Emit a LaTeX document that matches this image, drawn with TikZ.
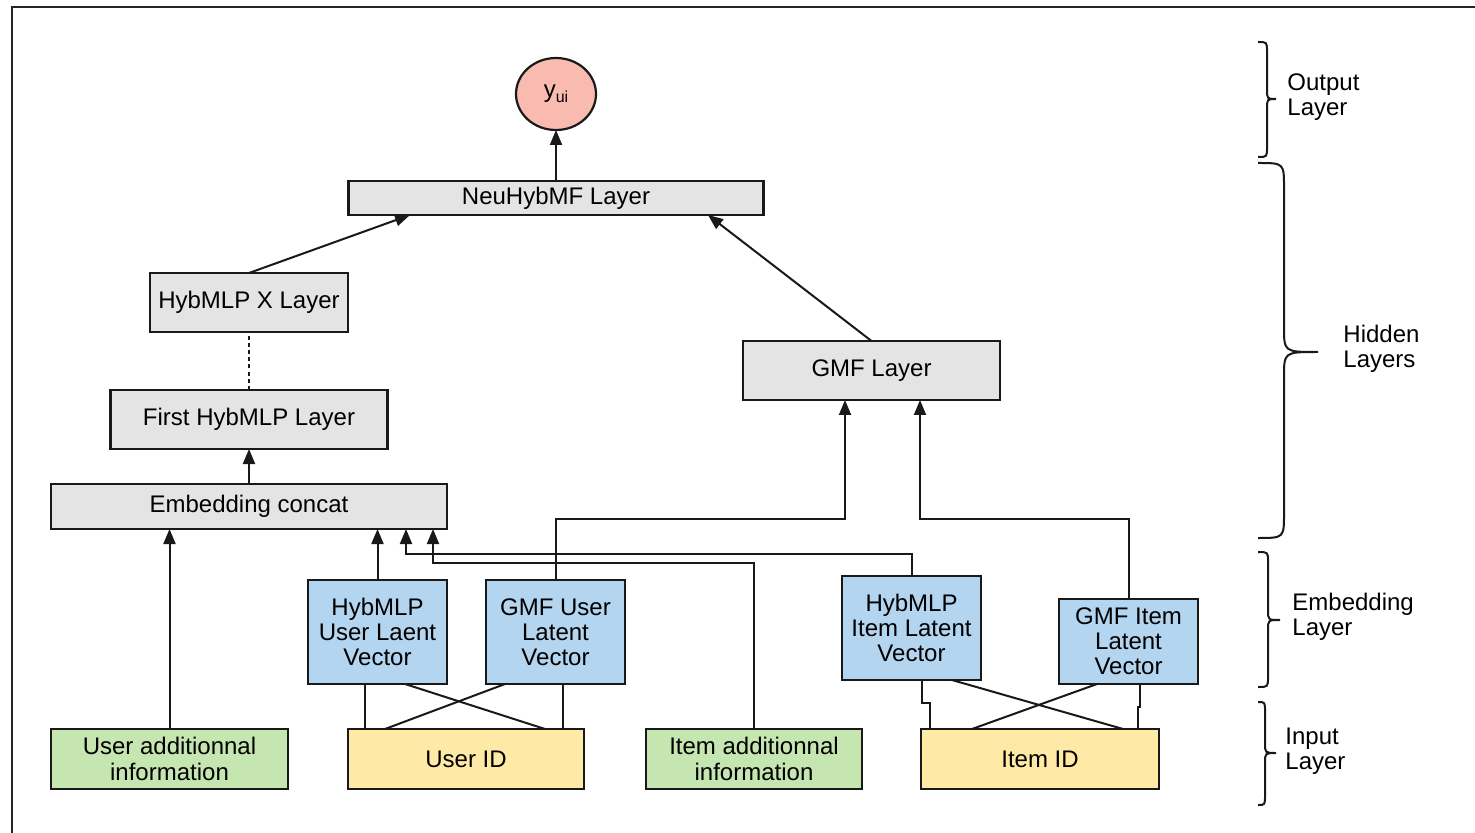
\documentclass[tikz,border=0pt]{standalone}
\usepackage{fontspec}
\setmainfont{Liberation Sans}
\usetikzlibrary{calc,arrows.meta,shapes.geometric}

\definecolor{layergray}{HTML}{E4E4E4}
\definecolor{vecblue}{HTML}{B3D5EF}
\definecolor{infogreen}{HTML}{C6E6B1}
\definecolor{idyellow}{HTML}{FFE9A6}
\definecolor{outsalmon}{HTML}{F9BAAF}

% curly brace: ends at x=#1, stem at x=#2, tip at x=#3, top/mid/bottom y=#4/#5/#6, bend #7
\newcommand{\layerbrace}[7]{%
  \draw[bracestyle] (#1,#4) .. controls (#2,#4) .. (#2,#4+#7)
    -- (#2,#5-#7) .. controls (#2,#5) .. (#3,#5)
    .. controls (#2,#5) .. (#2,#5+#7)
    -- (#2,#6-#7) .. controls (#2,#6) .. (#1,#6);}

\begin{document}
\begin{tikzpicture}[x=0.5pt,y=-0.5pt,
  font=\fontsize{12}{12.6}\selectfont,
  box/.style={draw=black!90, line width=1.1pt, inner sep=0pt, outer sep=0pt, align=center},
  layer/.style={box, fill=layergray},
  vec/.style={box, fill=vecblue, minimum width=69.5pt, minimum height=52pt},
  info/.style={box, fill=infogreen, minimum height=30pt},
  ident/.style={box, fill=idyellow, minimum height=30pt},
  link/.style={line width=1pt, black!90},
  arr/.style={link, -{Triangle[length=7.5pt,width=6pt]}},
  bracestyle/.style={line width=1pt, black!90},
  side/.style={anchor=west, align=left, inner sep=0pt}]

\useasboundingbox (0,0) rectangle (1475,833);

% outer frame (top and left edges)
\draw[line width=0.9pt, black!85] (12,833) -- (12,7) -- (1475,7);

% output
\node[ellipse, draw=black!90, line width=1.1pt, fill=outsalmon, minimum width=40pt,
      minimum height=36pt, inner sep=0pt, outer sep=0pt] (yui) at (556,94)
      {y\raisebox{-0.35ex}{\fontsize{8}{8}\selectfont ui}};

% hidden layers
\node[layer, minimum width=207.5pt, minimum height=17pt] (neu) at (556,198) {NeuHybMF Layer};
\node[layer, minimum width=99pt, minimum height=29.5pt] (hybx) at (249,302.5) {HybMLP X Layer};
\node[layer, minimum width=138.5pt, minimum height=29.5pt] (first) at (249,419.5) {First HybMLP Layer};
\node[layer, minimum width=198pt, minimum height=22.5pt] (embc) at (249,506.5) {Embedding concat};
\node[layer, minimum width=128.5pt, minimum height=29.5pt] (gmf) at (871.5,370.5) {GMF Layer};

% embedding vectors
\node[vec] (hu) at (377.5,632) {HybMLP\\User Laent\\Vector};
\node[vec] (gu) at (555.5,632) {GMF User\\Latent\\Vector};
\node[vec] (hi) at (911.5,628) {HybMLP\\Item Latent\\Vector};
\node[vec, minimum height=42.5pt] (gi) at (1128.5,641.5) {GMF Item\\Latent\\Vector};

% inputs
\node[info, minimum width=118.5pt] (uadd) at (169.5,759) {User additionnal\\information};
\node[ident, minimum width=118pt] (uid) at (466,759) {User ID};
\node[info, minimum width=108pt] (iadd) at (754,759) {Item additionnal\\information};
\node[ident, minimum width=119pt] (iid) at (1040,759) {Item ID};

% output connections
\draw[arr] (neu.north) -- (yui.south);
\draw[arr] (hybx.north) -- ($(neu.south)+(-146,0)$);
\draw[arr] (gmf.north) -- ($(neu.south)+(152,0)$);
\draw[link, dash pattern=on 2pt off 1.6pt] (first.north) -- (hybx.south);
\draw[arr] (embc.north) -- (first.south);

% into the embedding concat
\draw[arr] (uadd.north) -- (uadd.north |- embc.south);
\draw[arr] (hu.north) -- (hu.north |- embc.south);
\draw[arr] (hi.north) -- ++(0,-22) -| ($(embc.south)+(157,0)$);
\draw[arr] (iadd.north) -- ++(0,-166) -| ($(embc.south)+(184,0)$);

% into the GMF layer
\draw[arr] (gu.north) -- ++(0,-61) -| ($(gmf.south)+(-26.5,0)$);
\draw[arr] (gi.north) -- ++(0,-80) -| ($(gmf.south)+(48.5,0)$);

% user id to user vectors
\coordinate (hul) at ($(hu.south)+(-12.5,0)$);
\coordinate (gur) at ($(gu.south)+(7.5,0)$);
\draw[link] (hul) -- (hul |- uid.north);
\draw[link] (gur) -- (gur |- uid.north);
\draw[link] ($(hu.south)+(27.5,0)$) -- ($(uid.north)+(79,0)$);
\draw[link] ($(gu.south)+(-50.5,0)$) -- ($(uid.north)+(-81,0)$);

% item id to item vectors
\draw[link] ($(hi.south)+(10.5,0)$) -- ++(0,23) -| ($(iid.north)+(-110,0)$);
\draw[link] ($(gi.south)+(11.5,0)$) -- ++(0,23) -| ($(iid.north)+(98,0)$);
\draw[link] ($(hi.south)+(40.5,0)$) -- ($(iid.north)+(83,0)$);
\draw[link] ($(gi.south)+(-31.5,0)$) -- ($(iid.north)+(-68,0)$);

% layer braces and labels
\layerbrace{1258}{1267}{1276}{42}{99}{157}{10}
\layerbrace{1258}{1284}{1318}{163}{352}{538}{25}
\layerbrace{1258}{1268}{1280}{552}{620}{687}{10}
\layerbrace{1258}{1265}{1276}{702}{753}{805}{10}

\node[side] (outl) at (1287,97) {Output\\Layer};
\node[side] (hidl) at (1343,349) {Hidden\\Layers};
\node[side] (embl) at (1292,617) {Embedding\\Layer};
\node[side] (inpl) at (1285,751) {Input\\Layer};
\end{tikzpicture}
\end{document}
